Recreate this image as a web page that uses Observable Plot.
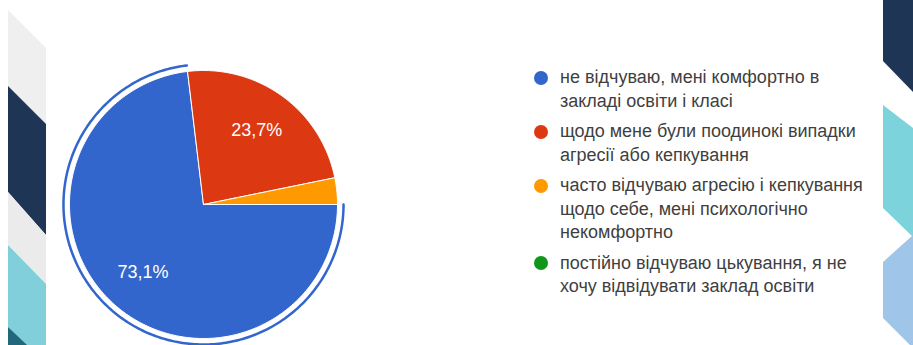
<!DOCTYPE html>
<html><head><meta charset="utf-8">
<script src="https://cdn.jsdelivr.net/npm/d3@7"></script>
<script src="https://cdn.jsdelivr.net/npm/@observablehq/plot@0.6"></script>
<style>
html,body{margin:0;padding:0;background:#fff;}
#page{position:relative;width:913px;height:345px;overflow:hidden;background:#fff;font-family:"Liberation Sans",Arial,sans-serif;}
.deco{position:absolute;left:0;top:0;width:913px;height:345px;}
#pie{position:absolute;left:53px;top:53.5px;width:300px;height:300px;}
#legend{position:absolute;left:534px;top:66px;}
.item{display:flex;align-items:flex-start;margin-bottom:7px;}
.sw{width:14px;height:14px;border-radius:50%;flex:none;margin-top:4.75px;margin-right:12px;}
.lab{font-size:18px;line-height:23.5px;color:#3f3f3f;white-space:pre-line;}
</style></head>
<body>
<div id="page">
  <div class="deco" style="background:#efefef;clip-path:polygon(8px 10px,46px 48px,46px 125px,8px 86px)"></div>
  <div class="deco" style="background:#1f3556;clip-path:polygon(8px 86px,46px 124px,46px 235px,8px 192px)"></div>
  <div class="deco" style="background:#ebebeb;clip-path:polygon(8px 192px,46px 235px,46px 284px,8px 245px)"></div>
  <div class="deco" style="background:#80cfda;clip-path:polygon(8px 245px,46px 284px,46px 366px,8px 327px)"></div>
  <div class="deco" style="background:#22677c;clip-path:polygon(8px 327px,27px 345px,8px 345px)"></div>
  <div class="deco" style="background:#1f3556;clip-path:polygon(883px 0px,913px 0px,913px 92px,883px 61px)"></div>
  <div class="deco" style="background:#7dd3dc;clip-path:polygon(883px 105px,913px 128px,913px 237px,883px 208px)"></div>
  <div class="deco" style="background:#9fc6e9;clip-path:polygon(883px 262px,913px 235px,913px 345px,910px 345px,883px 318px)"></div>
  <div id="pie"></div>
  <div id="legend"></div>
</div>
<script>
const categories = [
  "не відчуваю, мені комфортно в\nзакладі освіти і класі",
  "щодо мене були поодинокі випадки\nагресії або кепкування",
  "часто відчуваю агресію і кепкування\nщодо себе, мені психологічно\nнекомфортно",
  "постійно відчуваю цькування, я не\nхочу відвідувати заклад освіти"
];
const shares = [73.1, 23.7, 3.2, 0];
const colors = ["#3366cc", "#dc3912", "#ff9900", "#109618"];
const startAngle = 90;      // degrees clockwise from 12 o'clock
const selectedSlice = 0;    // highlighted slice (outer ring)
const labelThreshold = 5;   // percent

const total = d3.sum(shares);
let acc = startAngle;
const slices = categories.map((c, i) => {
  const a0 = acc, a1 = acc + shares[i] / total * 360;
  acc = a1;
  return {key: c, share: shares[i], a0, a1, mid: (a0 + a1) / 2};
});
const rad = (a) => a * Math.PI / 180;
function arcPoints(s, r, withCenter) {
  const n = Math.max(2, Math.ceil(s.a1 - s.a0));
  const pts = [];
  if (withCenter) pts.push({key: s.key, x: 0, y: 0});
  for (let k = 0; k <= n; k++) {
    const a = rad(s.a0 + (s.a1 - s.a0) * k / n);
    pts.push({key: s.key, x: r * Math.sin(a), y: r * Math.cos(a)});
  }
  if (withCenter) pts.push({key: s.key, x: 0, y: 0});
  return pts;
}
const piePts = slices.filter(s => s.share > 0).flatMap(s => arcPoints(s, 1, true));
const ringPts = arcPoints(slices[selectedSlice], 1.045, false);
const labelData = slices.filter(s => s.share >= labelThreshold).map(s => ({
  x: 0.68 * Math.sin(rad(s.mid)), y: 0.68 * Math.cos(rad(s.mid)),
  text: s.share.toFixed(1).replace(".", ",") + "%"
}));

const ext = 150 / 134;
const chart = Plot.plot({
  width: 300, height: 300, margin: 0,
  style: {background: "transparent"},
  x: {domain: [-ext, ext], axis: null},
  y: {domain: [-ext, ext], axis: null},
  color: {domain: categories, range: colors},
  marks: [
    Plot.line(piePts, {x: "x", y: "y", z: "key", fill: "key", stroke: "white", strokeWidth: 1, curve: "linear"}),
    Plot.line(ringPts, {x: "x", y: "y", stroke: colors[selectedSlice], strokeWidth: 2.5}),
    Plot.text(labelData, {x: "x", y: "y", text: "text", fill: "white", fontSize: 18, fontFamily: "Liberation Sans, Arial, sans-serif"})
  ]
});
document.getElementById("pie").appendChild(chart);

const legend = d3.select("#legend");
categories.forEach((c, i) => {
  const it = legend.append("div").attr("class", "item");
  it.append("div").attr("class", "sw").style("background", colors[i]);
  it.append("div").attr("class", "lab").text(c);
});
</script>
</body></html>
